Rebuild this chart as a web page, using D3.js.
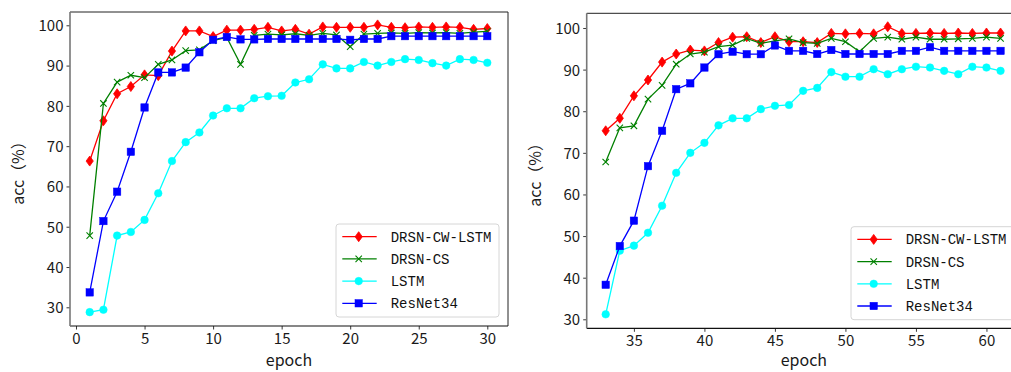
<!DOCTYPE html>
<html><head><meta charset="utf-8">
<script src="https://cdn.jsdelivr.net/npm/d3@7"></script>
<style>
html,body{margin:0;padding:0;background:#fff;}
svg{display:block;}
</style></head>
<body><svg id="chart" width="1011" height="372"></svg>
<script>
// ---------- data ----------
const seriesNames = ["DRSN-CW-LSTM", "DRSN-CS", "LSTM", "ResNet34"];

const leftEpochs = [1,2,3,4,5,6,7,8,9,10,11,12,13,14,15,16,17,18,19,20,21,22,23,24,25,26,27,28,29,30];
const leftDRSNCWLSTM = [66.3,76.3,83.0,84.8,87.7,87.5,93.6,98.6,98.6,97.2,98.8,98.8,99.0,99.5,98.6,99.0,97.8,99.6,99.5,99.5,99.5,100.1,99.5,99.4,99.6,99.5,99.6,99.5,99.0,99.2];
const leftDRSNCS = [47.8,80.6,85.9,87.6,87.0,90.3,91.4,93.7,93.9,96.2,97.0,90.3,97.5,97.8,97.6,97.9,97.5,98.0,97.6,94.7,97.8,98.0,98.1,98.0,98.2,98.1,98.2,98.0,98.3,98.5];
const leftLSTM = [28.8,29.4,47.8,48.7,51.7,58.3,66.3,71.0,73.4,77.6,79.4,79.4,81.9,82.4,82.5,85.8,86.6,90.3,89.3,89.3,90.9,90.0,90.9,91.6,91.4,90.6,90.0,91.6,91.4,90.7];
const leftResNet34 = [33.7,51.4,58.7,68.6,79.6,88.3,88.3,89.5,93.3,96.4,97.1,96.5,96.5,96.6,96.6,96.6,96.6,96.6,96.6,96.4,96.6,96.6,97.3,97.3,97.3,97.3,97.3,97.3,97.3,97.3];

const rightEpochs = [33,34,35,36,37,38,39,40,41,42,43,44,45,46,47,48,49,50,51,52,53,54,55,56,57,58,59,60,61];
const rightDRSNCWLSTM = [75.3,78.3,83.7,87.5,91.8,93.75,94.7,94.5,96.5,97.8,97.9,96.5,97.9,96.7,96.7,96.5,98.7,98.6,98.7,98.6,100.3,98.7,98.7,98.8,98.7,98.8,98.7,98.8,98.8];
const rightDRSNCS = [67.8,76.0,76.5,82.9,86.2,91.3,93.75,94.2,95.5,95.9,97.5,96.3,96.9,97.4,96.5,96.3,97.5,96.7,94.3,97.5,97.8,97.3,97.8,97.3,97.3,97.4,97.5,97.8,97.5];
const rightLSTM = [31.2,46.5,47.7,50.8,57.3,65.2,70.0,72.4,76.6,78.3,78.3,80.5,81.3,81.5,84.9,85.6,89.4,88.3,88.3,90.1,88.9,90.1,90.7,90.5,89.7,88.9,90.7,90.5,89.7];
const rightResNet34 = [38.3,47.6,53.7,66.8,75.3,85.3,86.7,90.5,93.7,94.3,93.7,93.7,95.8,94.5,94.5,93.75,94.7,93.75,93.75,93.75,93.75,94.5,94.5,95.4,94.5,94.5,94.5,94.5,94.5];

const leftXTicks = [0,5,10,15,20,25,30];
const rightXTicks = [35,40,45,50,55,60];
const yTicks = [30,40,50,60,70,80,90,100];

// ---------- styling ----------
const colors = ["#ff0000", "#008000", "#00ffff", "#0000ff"];
const markers = ["diamond", "x", "circle", "square"];
const tickFont = "'Noto Sans CJK SC', 'Liberation Sans', sans-serif";
const legendFont = "'Liberation Mono', 'DejaVu Sans Mono', monospace";

const svg = d3.select("#chart");

function drawMarker(g, type, color) {
  if (type === "diamond") {
    g.append("path").attr("d", "M0,-5L3.6,0L0,5L-3.6,0Z").attr("fill", color).attr("stroke", color).attr("stroke-width", 0.8);
  } else if (type === "square") {
    g.append("rect").attr("x", -3.7).attr("y", -3.7).attr("width", 7.4).attr("height", 7.4).attr("fill", color).attr("stroke", color).attr("stroke-width", 0.5);
  } else if (type === "circle") {
    g.append("circle").attr("r", 3.8).attr("fill", color).attr("stroke", color).attr("stroke-width", 0.5);
  } else if (type === "x") {
    g.append("path").attr("d", "M-3.2,-3.2L3.2,3.2M-3.2,3.2L3.2,-3.2").attr("fill", "none").attr("stroke", color).attr("stroke-width", 1.1);
  }
}

function panel(cfg) {
  const {x0, x1, y0, y1, xDomain, yDomain, epochs, series, xTicks, legend} = cfg;
  const x = d3.scaleLinear().domain(xDomain).range([x0, x1]);
  const y = d3.scaleLinear().domain(yDomain).range([y1, y0]);
  const g = svg.append("g");

  // axes
  const xAxis = d3.axisBottom(x).tickValues(xTicks).tickSize(3.5).tickPadding(3);
  const yAxis = d3.axisLeft(y).tickValues(yTicks).tickSize(3.5).tickPadding(3);
  const gx = g.append("g").attr("transform", `translate(0,${y1})`).call(xAxis);
  const gy = g.append("g").attr("transform", `translate(${x0},0)`).call(yAxis);
  [gx, gy].forEach(a => {
    a.select(".domain").remove();
    a.selectAll(".tick line").attr("stroke", "#222").attr("stroke-width", 0.9);
    a.selectAll(".tick text").attr("font-family", tickFont).attr("font-size", 15).attr("fill", "#1a1a1a");
  });
  gx.selectAll(".tick text").attr("dy", "0.78em");
  gy.selectAll(".tick text").attr("dy", "0.36em");

  // lines & markers
  const plot = g.append("g");
  series.forEach((vals, i) => {
    const line = d3.line().x((d, j) => x(epochs[j])).y(d => y(d));
    const sg = plot.append("g");
    sg.append("path").datum(vals).attr("d", line).attr("fill", "none").attr("stroke", colors[i]).attr("stroke-width", 1.3);
    vals.forEach((v, j) => {
      const mg = sg.append("g").attr("transform", `translate(${x(epochs[j])},${y(v)})`);
      drawMarker(mg, markers[i], colors[i]);
    });
  });

  // frame
  g.append("line").attr("x1", x0).attr("x2", x1).attr("y1", y0).attr("y2", y0).attr("stroke", "#222").attr("stroke-width", 1);
  g.append("line").attr("x1", x1).attr("x2", x1).attr("y1", y0).attr("y2", y1).attr("stroke", "#222").attr("stroke-width", 1);
  g.append("line").attr("x1", x0).attr("x2", x1).attr("y1", y1).attr("y2", y1).attr("stroke", "#111").attr("stroke-width", 1.2);
  g.append("line").attr("x1", x0).attr("x2", x0).attr("y1", y0).attr("y2", y1).attr("stroke", "#777").attr("stroke-width", 1.6);

  // labels
  g.append("text").attr("x", (x0 + x1) / 2).attr("y", 366).attr("text-anchor", "middle")
    .attr("font-family", tickFont).attr("font-size", 16).attr("fill", "#1a1a1a").text("epoch");
  g.append("text").attr("transform", `translate(${cfg.ylabelX},${(y0 + y1) / 2}) rotate(-90)`).attr("text-anchor", "middle")
    .attr("font-family", tickFont).attr("font-size", 16).attr("fill", "#1a1a1a").text("acc（%）");

  // legend
  const lg = g.append("g");
  lg.append("rect").attr("x", legend.x).attr("y", legend.y).attr("width", 163).attr("height", 93).attr("rx", 3)
    .attr("fill", "#fff").attr("fill-opacity", 0.85).attr("stroke", "#d6d6d6").attr("stroke-width", 1);
  seriesNames.forEach((name, i) => {
    const ry = legend.y + 12.7 + i * 22.2;
    lg.append("line").attr("x1", legend.x + 6.3).attr("x2", legend.x + 40.7).attr("y1", ry).attr("y2", ry)
      .attr("stroke", colors[i]).attr("stroke-width", 1.3);
    const mg = lg.append("g").attr("transform", `translate(${legend.x + 22.7},${ry})`);
    drawMarker(mg, markers[i], colors[i]);
    lg.append("text").attr("x", legend.x + 54.7).attr("y", ry + 5).attr("font-family", legendFont)
      .attr("font-size", 14).attr("fill", "#111").text(name);
  });
}

panel({
  x0: 70, x1: 508, y0: 12, y1: 326,
  xDomain: [-0.4376, 31.51], yDomain: [25.36, 103.3],
  epochs: leftEpochs,
  series: [leftDRSNCWLSTM, leftDRSNCS, leftLSTM, leftResNet34],
  xTicks: leftXTicks, ylabelX: 24,
  legend: {x: 336, y: 224}
});
panel({
  x0: 586.7, x1: 1021, y0: 13.3, y1: 328.3,
  xDomain: [31.653, 62.45], yDomain: [27.84, 103.53],
  epochs: rightEpochs,
  series: [rightDRSNCWLSTM, rightDRSNCS, rightLSTM, rightResNet34],
  xTicks: rightXTicks, ylabelX: 541,
  legend: {x: 851, y: 226.7}
});
</script>
</body></html>
